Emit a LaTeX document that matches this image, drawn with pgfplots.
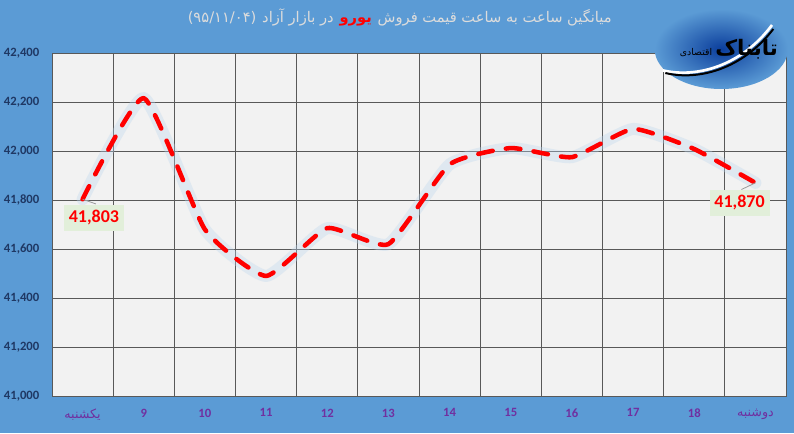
\documentclass[border=0pt]{standalone}
\usepackage{fontspec}
\setmainfont{Carlito}
\newfontfamily\fa[Script=Arabic]{DejaVu Sans}
\TeXXeTstate=1
\usepackage{pgfplots}
\pgfplotsset{compat=1.18}

\definecolor{bgblue}{HTML}{5B9BD5}
\definecolor{plotbg}{HTML}{F2F2F2}
\definecolor{gridc}{HTML}{595959}
\definecolor{navy}{HTML}{1F3864}
\definecolor{purp}{HTML}{7030A0}
\definecolor{lblbox}{HTML}{E2EFDA}
\definecolor{glow}{HTML}{BDD7EE}
\definecolor{titlec}{HTML}{DCDCDC}
\definecolor{logob}{HTML}{0B3E9C}

\begin{document}
\begin{tikzpicture}
\useasboundingbox (0,0) rectangle (595.5pt,324.75pt);
\fill[bgblue] (0,0) rectangle (595.5pt,324.75pt);

% title, right to left, one node per colour
\begin{scope}[every node/.style={inner sep=0pt, anchor=base east, font=\fa\fontsize{11}{12}\selectfont}]
\node[text=titlec] (t1) at (459pt,307.5pt) {\beginR میانگین ساعت به ساعت قیمت فروش\endR};
\node[text=red, font=\fa\bfseries\fontsize{11}{12}\selectfont] (t2) at ([xshift=-4pt]t1.base west) {\beginR یورو\endR};
\node[text=titlec] (t3) at ([xshift=-4pt]t2.base west) {\beginR در بازار آزاد\endR};
\node[text=titlec] (t4) at ([xshift=-4pt]t3.base west) {(۹۵/۱۱/۰۴)};
\end{scope}

\begin{axis}[
  at={(39pt,27.75pt)}, anchor=south west,
  width=550.5pt, height=257.25pt, scale only axis,
  axis background/.style={fill=plotbg},
  axis line style={gridc, line width=0.75pt},
  xmin=-0.5, xmax=11.5,
  ymin=41000, ymax=42400,
  ytick={41000,41200,...,42400},
  scaled y ticks=false,
  xtick={0,...,11},
  xticklabels={{\fa\mdseries\beginR یکشنبه\endR},9,10,11,12,13,14,15,16,17,18,{\fa\mdseries\beginR دوشنبه\endR}},
  minor xtick={-0.5,0.5,...,11.5},
  xminorgrids=true, ymajorgrids=true,
  grid style={gridc, line width=0.75pt},
  minor grid style={gridc, line width=0.75pt},
  major tick length=0pt, minor tick length=0pt,
  /pgf/number format/.cd, fixed, precision=0, 1000 sep={,}, assume math mode=true,
  /pgfplots/.cd,
  yticklabel style={text=navy, font=\bfseries\fontsize{9.5}{10}\selectfont, xshift=-6pt},
  xticklabel style={text=purp, font=\bfseries\fontsize{9.5}{10}\selectfont, yshift=-6pt},
]
\addplot[glow, opacity=0.35, line width=9pt, smooth, tension=0.3, line cap=round, line join=round]
  coordinates {(0,41803) (1,42216) (2,41680) (3,41490) (4,41685) (5,41620)
               (6,41945) (7,42012) (8,41975) (9,42090) (10,42008) (11,41870)};
\addplot[red, line width=3.4pt, smooth, tension=0.3, line cap=round, line join=round,
         dash pattern=on 11pt off 10pt]
  coordinates {(0,41803) (1,42216) (2,41680) (3,41490) (4,41685) (5,41620)
               (6,41945) (7,42012) (8,41975) (9,42090) (10,42008) (11,41870)};

\draw[gray!80, line width=0.6pt] (axis cs:0,41803) -- ++(10pt,-3.5pt);
\draw[gray!80, line width=0.6pt] (axis cs:11,41870) -- ++(-10.5pt,-5pt);

\addplot[draw=none, nodes near coords, point meta=y,
  every node near coord/.style={fill=lblbox, text=red, anchor=center,
    font=\bfseries\fontsize{13.5}{14}\selectfont, minimum width=45pt,
    minimum height=20pt, inner sep=0pt, xshift=8.5pt, yshift=-14pt}]
  coordinates {(0,41803)};
\addplot[draw=none, nodes near coords, point meta=y,
  every node near coord/.style={fill=lblbox, text=red, anchor=center,
    font=\bfseries\fontsize{13.5}{14}\selectfont, minimum width=45pt,
    minimum height=20pt, inner sep=0pt, xshift=-11.9pt, yshift=-15pt}]
  coordinates {(11,41870)};
\end{axis}

% logo
\shade[inner color=logob, outer color=bgblue] (541pt,288pt) ellipse (50pt and 30pt);
\draw[white, line width=2pt] (497pt,272pt) .. controls (522pt,266pt) and (556pt,275pt) .. (579pt,306pt);
\draw[black, line width=1.5pt] (499pt,270pt) .. controls (524pt,264pt) and (557pt,273pt) .. (580pt,303pt);
\node[text=black, font=\fa\bfseries\fontsize{16}{18}\selectfont] at (560pt,288pt) {\beginR تابناک\endR};
\node[text=black, font=\fa\fontsize{7}{8}\selectfont] at (522pt,285pt) {\beginR اقتصادی\endR};
\end{tikzpicture}
\end{document}
